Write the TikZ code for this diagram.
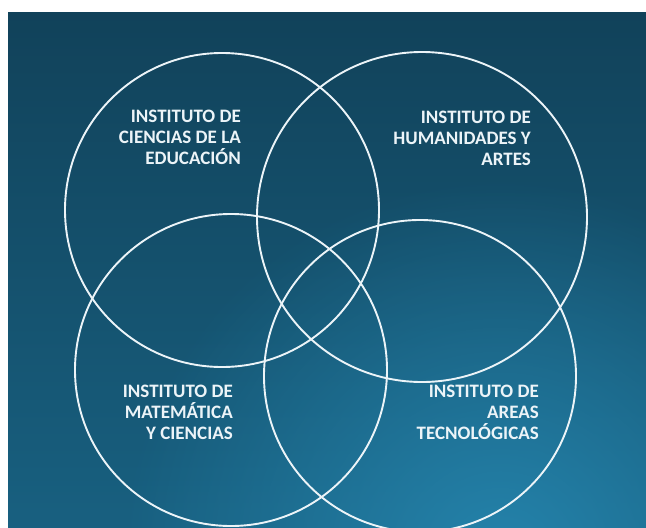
\documentclass[tikz,border=0pt]{standalone}
\usepackage{fontspec}
\setmainfont{Carlito}
\usetikzlibrary{fadings}
\definecolor{bgtop}{RGB}{17,66,90}
\definecolor{bgbot}{RGB}{24,96,128}
\definecolor{glow}{RGB}{38,135,176}
\definecolor{ink}{RGB}{236,244,248}
\tikzfading[name=softglow, inner color=transparent!0, outer color=transparent!100]
\tikzset{
  ring/.style={draw=ink, line width=1.9pt},
  label/.style={text=ink, font=\bfseries\fontsize{19}{21}\selectfont, align=right, anchor=east, inner sep=0pt}
}
\begin{document}
\begin{tikzpicture}[x=1pt,y=-1pt]
\useasboundingbox (0,0) rectangle (646,528);
\fill[white] (0,0) rectangle (646,528);
\begin{scope}
\clip (8,12) rectangle (646,528);
\shade[top color=bgtop, bottom color=bgbot] (8,12) rectangle (646,528);
\fill[glow, path fading=softglow, fill opacity=0.9] (500,560) circle[radius=380];
\end{scope}
\draw[ring] (222,210) circle[radius=157];
\draw[ring] (422,217) circle[radius=165];
\draw[ring] (231,370) circle[radius=156];
\draw[ring] (420,376) circle[radius=156];
\node[label] (tl) at (241,137) {INSTITUTO DE\\CIENCIAS DE LA\\EDUCACIÓN};
\node[label] (tr) at (531,138) {INSTITUTO DE\\HUMANIDADES Y\\ARTES};
\node[label] (bl) at (233,412) {INSTITUTO DE\\MATEMÁTICA\\Y CIENCIAS};
\node[label] (br) at (539,412) {INSTITUTO DE\\AREAS\\TECNOLÓGICAS};
\end{tikzpicture}
\end{document}
